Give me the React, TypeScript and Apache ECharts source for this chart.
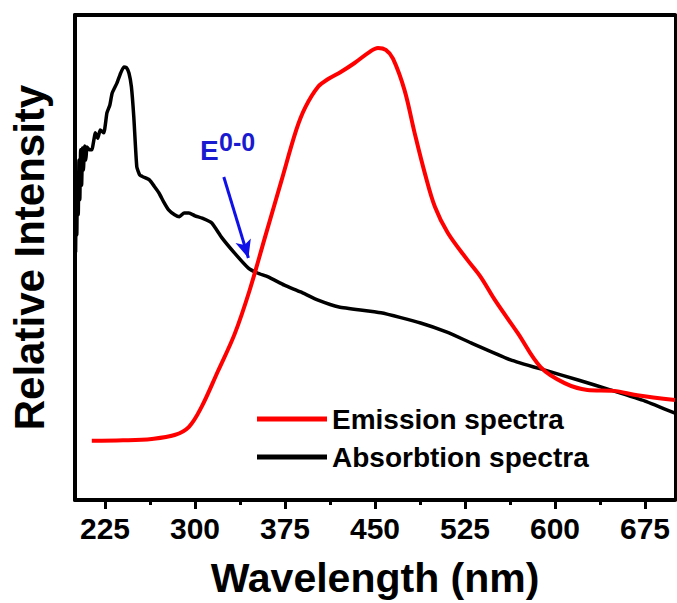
import React, { useEffect, useRef } from 'react';
import * as echarts from 'echarts';

const majorTicks = [225, 300, 375, 450, 525, 600, 675];
const minorTicks = [262.5, 337.5, 412.5, 487.5, 562.5, 637.5];

const emissionWl = [214, 240, 264, 283, 295, 305.5, 319, 333, 345.6, 358, 372, 384.4, 392, 402.6, 411, 421.8, 433, 445, 452.5, 459, 465, 474.6, 483, 491.5, 500, 510.6, 527, 538, 550, 569, 588, 608, 627, 649, 668.5, 700];
const emissionInt = [12.2, 12.3, 12.6, 13.4, 15.1, 19.2, 26.5, 34.2, 43.3, 53.9, 65.8, 76.3, 81.0, 85.2, 86.8, 88.3, 90.1, 92.3, 93.2, 92.8, 91.0, 84.5, 75.7, 67.4, 60.4, 55.1, 49.5, 46.0, 41.2, 34.4, 27.4, 24.1, 22.7, 22.5, 21.6, 20.6];

const absorptionWl = [200.5, 201, 201.5, 202, 202.7, 203.3, 204, 204.7, 205.5, 206.3, 207, 208, 209, 210, 212, 214, 217, 219, 221, 224, 226.6, 229, 231, 235, 238, 240.7, 243, 245, 247, 249, 251.5, 254, 257, 262, 266, 270, 274, 278, 283, 287, 291, 295, 300, 306, 314, 322, 333, 344.5, 352, 361, 374.5, 388, 402.6, 420, 455, 488, 510, 530, 563, 591, 620, 646, 675, 700];
const absorptionInt = [51.1, 61.9, 54.6, 67.0, 58.8, 70.1, 61.9, 72.2, 64.9, 72.6, 68.0, 73.0, 70.1, 72.8, 72.2, 72.2, 75.7, 74.6, 76.3, 75.7, 79.8, 81.4, 83.9, 86.0, 88.0, 89.3, 89.1, 88.0, 85.2, 79.0, 68.7, 67.0, 66.6, 66.0, 64.7, 63.3, 61.4, 59.8, 58.8, 58.4, 59.2, 59.2, 58.6, 58.1, 57.1, 54.2, 50.9, 47.8, 46.8, 46.0, 44.3, 42.9, 41.2, 39.8, 38.6, 36.5, 34.6, 32.4, 28.9, 26.8, 24.7, 22.7, 20.4, 17.9];

const arrowFrom = [324, 66.6];
const arrowTo = [344.5, 49.9];

const FONT = '"Liberation Sans", Arial, sans-serif';

export default function App() {
  const ref = useRef<HTMLDivElement>(null);
  useEffect(() => {
    if (!ref.current) return;
    const chart = echarts.init(ref.current, null, { renderer: 'svg' });
    const emission = emissionWl.map((x, i) => [x, emissionInt[i]]);
    const absorption = absorptionWl.map((x, i) => [x, absorptionInt[i]]);
    chart.setOption({
      animation: false,
      backgroundColor: '#ffffff',
      textStyle: { fontFamily: FONT },
      grid: { left: 73, right: 2, top: 15, bottom: 103, containLabel: false },
      legend: {
        orient: 'vertical',
        left: 257,
        top: 405,
        padding: 0,
        icon: 'rect',
        itemWidth: 70,
        itemHeight: 5,
        itemGap: 10,
        textStyle: { fontSize: 28, fontWeight: 'bold', color: '#000', fontFamily: FONT },
        data: ['Emission spectra', 'Absorbtion spectra'],
      },
      xAxis: [
        {
          type: 'value',
          min: 200,
          max: 700,
          position: 'bottom',
          axisLine: { show: true, lineStyle: { color: '#000', width: 4 } },
          axisTick: { show: true, customValues: majorTicks, length: 9, lineStyle: { color: '#000', width: 3 } },
          axisLabel: { show: true, customValues: majorTicks, margin: 13, fontSize: 30, fontWeight: 'bold', color: '#000', fontFamily: FONT },
          splitLine: { show: false },
          name: 'Wavelength (nm)',
          nameLocation: 'middle',
          nameGap: 57,
          nameTextStyle: { fontSize: 41, fontWeight: 'bold', color: '#000', fontFamily: FONT },
        },
        {
          type: 'value',
          min: 200,
          max: 700,
          position: 'bottom',
          axisLine: { show: false },
          axisTick: { show: true, customValues: minorTicks, length: 5, lineStyle: { color: '#000', width: 3 } },
          axisLabel: { show: false },
          splitLine: { show: false },
        },
        {
          type: 'value',
          min: 200,
          max: 700,
          position: 'top',
          axisLine: { show: true, lineStyle: { color: '#000', width: 4 } },
          axisTick: { show: false },
          axisLabel: { show: false },
          splitLine: { show: false },
        },
      ],
      yAxis: [
        {
          type: 'value',
          min: 0,
          max: 100,
          position: 'left',
          axisLine: { show: true, lineStyle: { color: '#000', width: 4 } },
          axisTick: { show: false },
          axisLabel: { show: false },
          splitLine: { show: false },
          name: 'Relative Intensity',
          nameLocation: 'middle',
          nameGap: 25,
          nameTextStyle: { fontSize: 42, fontWeight: 'bold', color: '#000', fontFamily: FONT },
        },
        {
          type: 'value',
          min: 0,
          max: 100,
          position: 'right',
          axisLine: { show: true, lineStyle: { color: '#000', width: 3 } },
          axisTick: { show: false },
          axisLabel: { show: false },
          splitLine: { show: false },
        },
      ],
      series: [
        {
          name: 'Emission spectra',
          type: 'line',
          data: emission,
          symbol: 'none',
          smooth: 0.35,
          lineStyle: { color: '#ff0000', width: 4 },
          itemStyle: { color: '#ff0000' },
          z: 3,
        },
        {
          name: 'Absorbtion spectra',
          type: 'line',
          data: absorption,
          symbol: 'none',
          smooth: 0.15,
          lineStyle: { color: '#000000', width: 3.5 },
          itemStyle: { color: '#000000' },
          z: 2,
          markLine: {
            silent: true,
            symbol: ['none', 'arrow'],
            symbolSize: [12, 18],
            label: { show: false },
            lineStyle: { color: '#1010e8', width: 3, type: 'solid' },
            data: [[{ coord: arrowFrom }, { coord: arrowTo }]],
          },
        },
      ],
      graphic: [
        {
          type: 'text',
          left: 200,
          top: 136,
          style: { text: 'E', fontSize: 28, fontWeight: 'bold', fill: '#1a1ad0', fontFamily: FONT },
        },
        {
          type: 'text',
          left: 219,
          top: 129,
          style: { text: '0-0', fontSize: 25, fontWeight: 'bold', fill: '#1a1ad0', fontFamily: FONT },
        },
      ],
    });
    return () => chart.dispose();
  }, []);
  return (
    <div
      ref={ref}
      style={{ position: 'fixed', left: 0, top: 0, width: 677, height: 603, background: '#fff' }}
    />
  );
}
